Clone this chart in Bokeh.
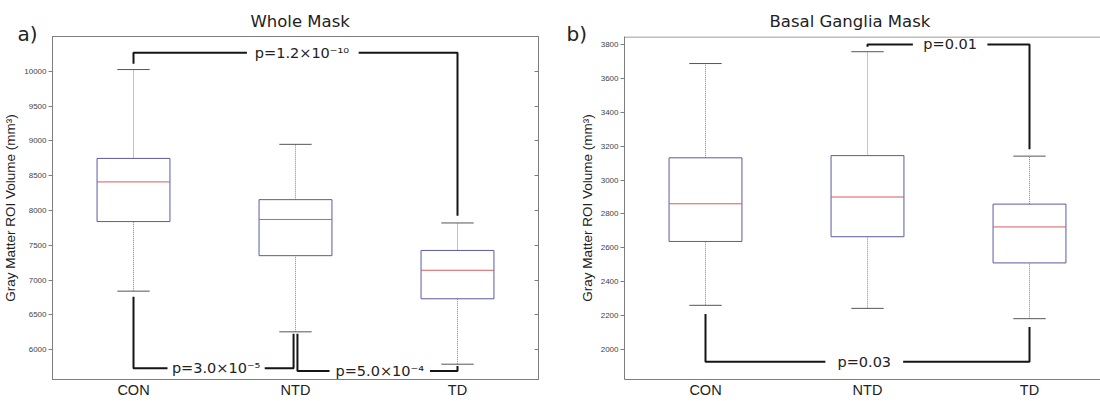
from bokeh.plotting import figure
from bokeh.layouts import row
from bokeh.models import FixedTicker, LinearAxis, Range1d, Title, Span
from bokeh.core.properties import value
from bokeh.embed import file_html
from bokeh.resources import INLINE

# ---------------- data ----------------
categories = ["CON", "NTD", "TD"]
positions = [1, 2, 3]

# Whole Mask (mm^3)
wm_hi = [10025, 8950, 7820]
wm_q3 = [8748, 8155, 7425]
wm_med = [8410, 7870, 7140]
wm_q1 = [7840, 7350, 6730]
wm_lo = [6840, 6255, 5790]
wm_ticks = [6000, 6500, 7000, 7500, 8000, 8500, 9000, 9500, 10000]

# Basal Ganglia Mask (mm^3)
bg_hi = [3690, 3760, 3142]
bg_q3 = [3132, 3145, 2858]
bg_med = [2860, 2900, 2723]
bg_q1 = [2637, 2665, 2510]
bg_lo = [2259, 2241, 2180]
bg_ticks = [2000, 2200, 2400, 2600, 2800, 3000, 3200, 3400, 3600, 3800]

# significance brackets
wm_p_text = ["p=1.2×10⁻¹⁰", "p=3.0×10⁻⁵", "p=5.0×10⁻⁴"]
wm_p_pair = [(1, 3), (1, 2), (2, 3)]
wm_p_level = [10265, 5730, 5693]
wm_p_leg_start = [(10110, 7925), (6760, 6227), (6227, 5765)]

bg_p_text = ["p=0.01", "p=0.03"]
bg_p_pair = [(2, 3), (1, 3)]
bg_p_level = [3803, 1925]
bg_p_leg_start = [(3790, 3182), (2208, 2130)]

# ---------------- style ----------------
FRAME = "#7d7d7d"
BOX = "#5a5aa2"
MED = "#d85c5c"
WHISK = "#8a8a8a"
CAP = "#555555"
BRK = "#151515"
TXT = "#222222"
BOX_W = 0.45
CAP_W = 0.2


def make_panel(title, hi, q3, med, q1, lo, ticks, yr, xr_end, width,
               min_left, min_right, title_offset, letter, letter_offset,
               p_text, p_pair, p_level, p_leg, leg_dx, label_x, gaps, full_box):
    p = figure(width=width, height=400, x_range=Range1d(0.5, xr_end),
               y_range=Range1d(*yr), output_backend="svg", toolbar_location=None,
               min_border_left=min_left, min_border_right=min_right,
               min_border_top=36, min_border_bottom=0,
               background_fill_color="white", border_fill_color="white")
    p.title_location = None
    p.xgrid.visible = False
    p.ygrid.visible = False
    p.outline_line_color = FRAME if full_box else None

    # panel letter (nearest the frame), then main title above it
    p.add_layout(Title(text=letter, align="left", offset=letter_offset,
                       text_font="DejaVu Sans", text_font_size="20px",
                       text_font_style="normal", text_color=TXT,
                       vertical_align="bottom", standoff=-18), "above")
    p.add_layout(Title(text=title, align="left", offset=title_offset,
                       text_font="DejaVu Sans", text_font_size="16.5px",
                       text_font_style="normal", text_color=TXT,
                       vertical_align="bottom", standoff=-4), "above")

    # y axis
    ya = p.yaxis[0]
    ya.ticker = FixedTicker(ticks=ticks)
    ya.minor_tick_line_color = None
    ya.major_tick_out = 4
    ya.major_tick_in = 0
    ya.major_tick_line_color = FRAME
    ya.axis_line_color = FRAME
    ya.major_label_text_font = "Liberation Sans"
    ya.major_label_text_font_size = "8px"
    ya.major_label_text_color = "#444444"
    ya.major_label_standoff = 2
    ya.axis_label = "Gray Matter ROI Volume (mm³)"
    ya.axis_label_text_font = "Liberation Sans"
    ya.axis_label_text_font_size = "13.5px"
    ya.axis_label_text_font_style = "normal"
    ya.axis_label_text_color = TXT
    ya.axis_label_standoff = 3

    # x axis
    xa = p.xaxis[0]
    xa.ticker = FixedTicker(ticks=positions)
    xa.major_label_overrides = {pos: c for pos, c in zip(positions, categories)}
    xa.major_tick_line_color = None
    xa.major_tick_out = 0
    xa.major_tick_in = 0
    xa.minor_tick_line_color = None
    xa.minor_tick_out = 0
    xa.axis_line_color = FRAME
    xa.axis_label_standoff = 0
    xa.major_label_text_font = "Liberation Sans"
    xa.major_label_text_font_size = "14.5px"
    xa.major_label_text_color = TXT
    xa.major_label_standoff = 2

    if full_box:
        ra = LinearAxis(ticker=FixedTicker(ticks=ticks),
                        major_label_overrides={t: "" for t in ticks},
                        major_label_text_color=None, major_label_text_font_size="8px",
                        major_tick_in=4, major_tick_out=0, major_tick_line_color=FRAME,
                        minor_tick_line_color=None, minor_tick_out=0,
                        axis_line_color=FRAME, major_label_standoff=0,
                        axis_label_standoff=0)
        p.add_layout(ra, "right")
    else:
        # top border of the frame (the right border lies outside the picture)
        p.add_layout(Span(location=yr[1] - (yr[1] - yr[0]) * 0.0015, dimension="width",
                          line_color=FRAME, line_width=1))

    # whiskers
    p.segment(x0=positions, y0=q3, x1=positions, y1=hi, line_color=WHISK,
              line_width=1, line_dash="1 1")
    p.segment(x0=positions, y0=lo, x1=positions, y1=q1, line_color=WHISK,
              line_width=1, line_dash="1 1")
    # caps
    xl = [x - CAP_W / 2 for x in positions]
    xr = [x + CAP_W / 2 for x in positions]
    p.segment(x0=xl, y0=hi, x1=xr, y1=hi, line_color=CAP, line_width=1)
    p.segment(x0=xl, y0=lo, x1=xr, y1=lo, line_color=CAP, line_width=1)
    # boxes
    p.vbar(x=positions, bottom=q1, top=q3, width=BOX_W, fill_color=None,
           line_color=BOX, line_width=1)
    bl = [x - BOX_W / 2 for x in positions]
    br = [x + BOX_W / 2 for x in positions]
    p.segment(x0=bl, y0=med, x1=br, y1=med, line_color=MED, line_width=1)

    # significance brackets
    xs, ys = [], []
    for (a, b), lvl, (s0, s1), (d0, d1), (g0, g1) in zip(p_pair, p_level, p_leg, leg_dx, gaps):
        xs.append([a + d0, a + d0, g0])
        ys.append([s0, lvl, lvl])
        xs.append([g1, b + d1, b + d1])
        ys.append([lvl, lvl, s1])
    p.multi_line(xs=xs, ys=ys, line_color=BRK, line_width=2)
    p.text(x=label_x, y=p_level, text=p_text, text_font=value("DejaVu Sans"),
           text_font_size="14.5px", text_align="center", text_baseline="middle",
           text_color=TXT)
    return p


p1 = make_panel("Whole Mask", wm_hi, wm_q3, wm_med, wm_q1, wm_lo, wm_ticks,
                (5570, 10500), 3.5, 560, 52, 22, 198, "a)", -35,
                wm_p_text, wm_p_pair, wm_p_level, wm_p_leg_start,
                [(0, 0), (0, -0.012), (0.012, 0)],
                [2.04, 1.51, 2.52],
                [(1.70, 2.39), (1.21, 1.81), (2.21, 2.83)], True)

p2 = make_panel("Basal Ganglia Mask", bg_hi, bg_q3, bg_med, bg_q1, bg_lo, bg_ticks,
                (1820, 3850), 0.5 + 476 / 162, 540, 64, 0, 145, "b)", -58,
                bg_p_text, bg_p_pair, bg_p_level, bg_p_leg_start,
                [(0, 0), (0, 0)],
                [2.51, 1.98],
                [(2.28, 2.74), (1.74, 2.22)], False)

layout = row(p1, p2)
open("out.html", "w").write(file_html(layout, INLINE))
